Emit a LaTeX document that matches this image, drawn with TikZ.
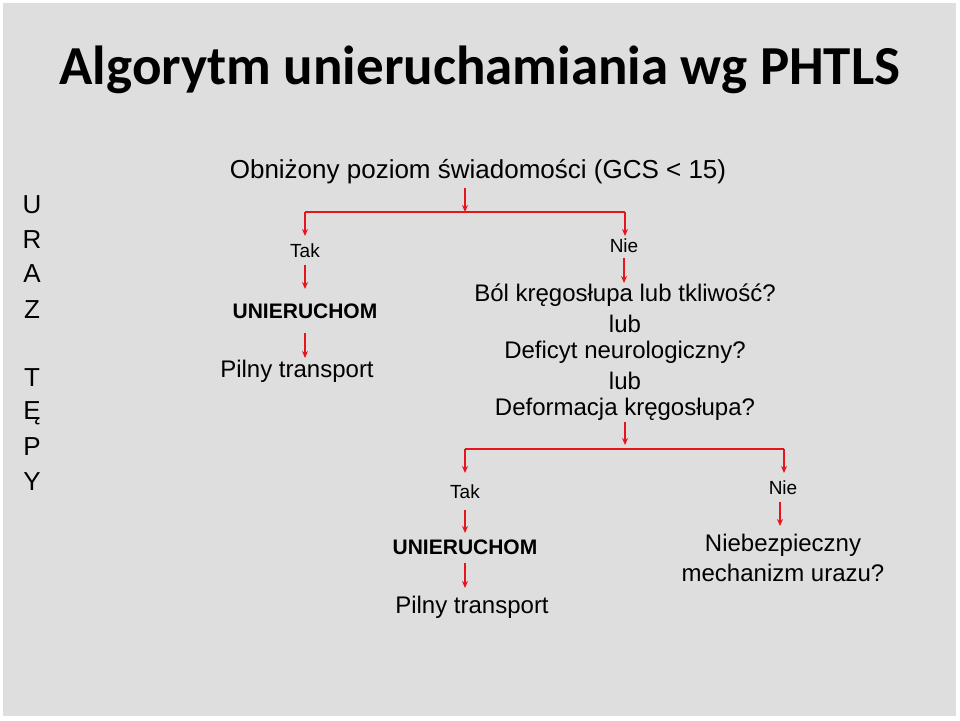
\documentclass[tikz,border=0pt]{standalone}
\usepackage{fontspec}
\setmainfont{Liberation Sans}
\newfontfamily\titlefont{Carlito}
\usetikzlibrary{arrows.meta}
\definecolor{bggray}{HTML}{DEDEDE}
\definecolor{arrred}{HTML}{E8141B}
\tikzset{
    txt/.style={inner sep=0pt, font=\fontsize{24}{28}\selectfont},
    small/.style={inner sep=0pt, font=\fontsize{19}{22}\selectfont},
    bold/.style={inner sep=0pt, font=\fontsize{21}{24}\selectfont\bfseries},
    letter/.style={inner sep=0pt, font=\fontsize{26}{30}\selectfont},
    link/.style={arrred, line width=1.2pt, -{Stealth[length=7pt,width=6pt]}},
    bar/.style={arrred, line width=1.2pt}
}
\begin{document}
\begin{tikzpicture}[x=1pt,y=-1pt]
    \useasboundingbox (0,0) rectangle (960,720);
    \fill[white] (0,0) rectangle (960,720);
    \fill[bggray] (3,3) rectangle (956,716);

    \node[inner sep=0pt, font=\titlefont\fontsize{55}{60}\selectfont\bfseries] (title) at (480,70) {Algorytm unieruchamiania wg PHTLS};

    % side letters
    \foreach \l/\y in {U/205,R/240,A/274,Z/310,T/378,Ę/413,P/447,Y/482}{
        \node[letter] at (32,\y) {\l};
    }

    \node[txt, font=\fontsize{26}{30}\selectfont] (gcs) at (478,172) {Obniżony poziom świadomości (GCS < 15)};
    \coordinate (split1) at (465,212);
    \coordinate (left1) at (305,212);
    \coordinate (right1) at (625,212);

    \node[small] (tak1) at (305,251) {Tak};
    \node[bold] (unier1) at (305,311) {UNIERUCHOM};
    \node[txt] (pilny1) at (297,371) {Pilny transport};

    \node[small] (nie1) at (624,246) {Nie};
    \node[txt] (bol) at (625,295) {Ból kręgosłupa lub tkliwość?};
    \node[txt] (lub1) at (625,324) {lub};
    \node[txt] (deficyt) at (625,352) {Deficyt neurologiczny?};
    \node[txt] (lub2) at (625,381) {lub};
    \node[txt] (deform) at (625,409) {Deformacja kręgosłupa?};
    \coordinate (split2) at (625,449);
    \coordinate (left2) at (465,449);
    \coordinate (right2) at (784,449);

    \node[small] (tak2) at (465,492) {Tak};
    \node[bold] (unier2) at (465,547) {UNIERUCHOM};
    \node[txt] (pilny2) at (472,607) {Pilny transport};

    \node[small] (nie2) at (783,488) {Nie};
    \node[txt] (niebez) at (783,545) {Niebezpieczny};
    \node[txt] (mech) at (783,573) {mechanizm urazu?};

    \draw[link] (465,188) -- (split1);
    \draw[bar] (left1) -- (right1);
    \draw[link] (left1) -- (305,236);
    \draw[link] (right1) -- (625,236);
    \draw[link] (305,265) -- (305,289);
    \draw[link] (305,333) -- (305,358);
    \draw[link] (624,258) -- (624,283);
    \draw[link] (625,422) -- (625,445);
    \draw[bar] (left2) -- (right2);
    \draw[link] (left2) -- (465,473);
    \draw[link] (right2) -- (784,473);
    \draw[link] (465,510) -- (465,533);
    \draw[link] (465,563) -- (465,588);
    \draw[link] (780,502) -- (780,526);
\end{tikzpicture}
\end{document}
